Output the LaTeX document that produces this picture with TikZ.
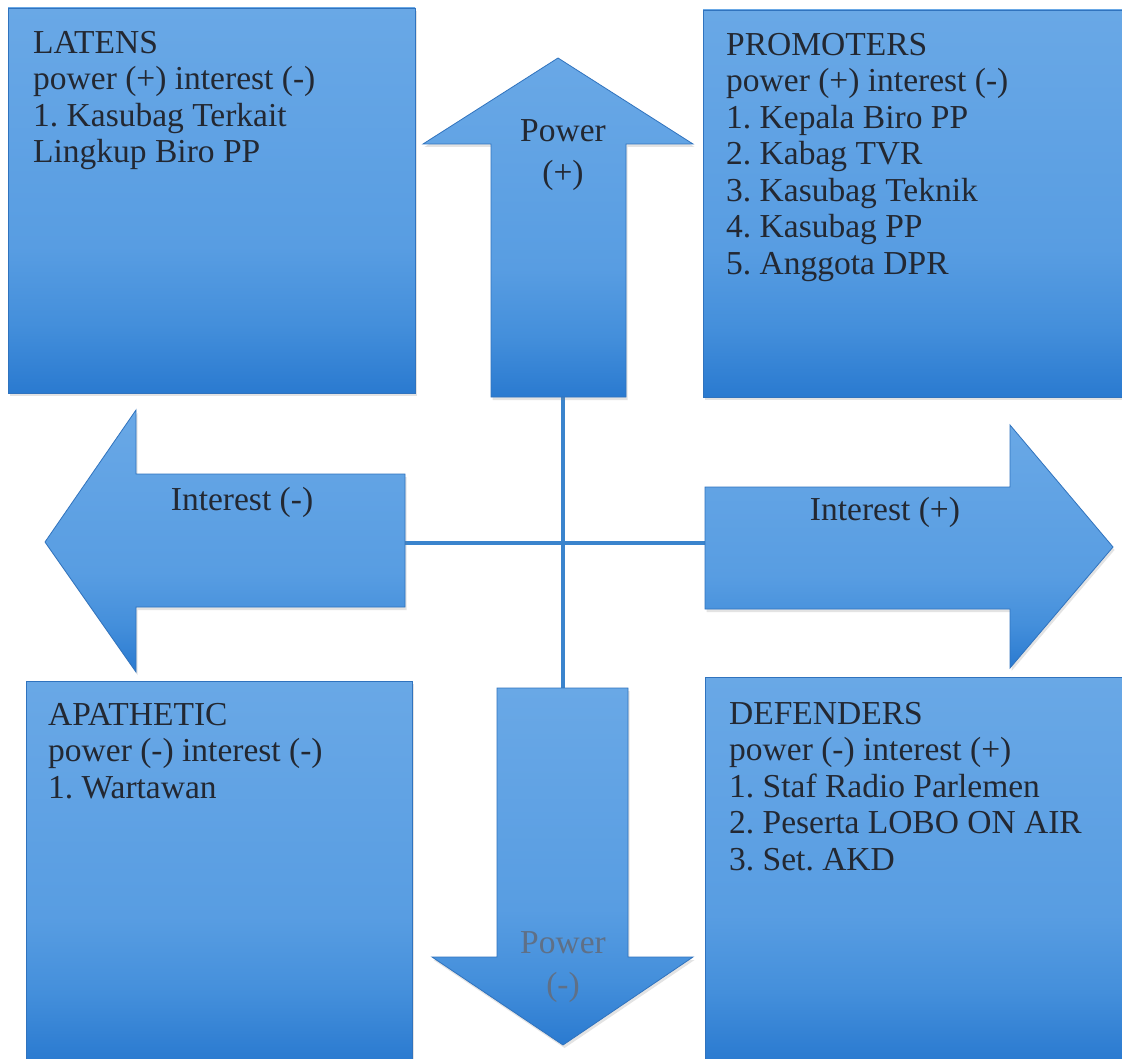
\documentclass[tikz,border=0pt]{standalone}
\usepackage{fontspec}
\setmainfont{Liberation Serif}
\usetikzlibrary{shadows}
\definecolor{boxtop}{RGB}{105,168,230}
\definecolor{boxmid}{RGB}{88,157,226}
\definecolor{boxlow}{RGB}{68,143,219}
\definecolor{boxbot}{RGB}{42,122,208}
\definecolor{edgeblue}{RGB}{48,115,190}
\definecolor{txt}{RGB}{35,40,50}
\definecolor{fadetxt}{RGB}{95,112,135}
\definecolor{linkblue}{RGB}{58,132,205}
\pgfdeclareverticalshading{boxshade}{100bp}{color(0bp)=(boxbot); color(25bp)=(boxbot); color(34bp)=(boxlow); color(44bp)=(boxmid); color(75bp)=(boxtop); color(100bp)=(boxtop)}
\tikzset{
  quad/.style={shade, shading=boxshade, draw=edgeblue, line width=0.8pt, inner sep=0pt, outer sep=0pt, anchor=north west,
    drop shadow={opacity=0.22, shadow xshift=1.5pt, shadow yshift=-3pt}},
  bigarrow/.style={shade, shading=boxshade, draw=edgeblue, line width=0.8pt,
    drop shadow={opacity=0.22, shadow xshift=1.5pt, shadow yshift=-3pt}},
  boxtext/.style={anchor=north west, align=left, inner sep=0pt, text=txt, font=\fontsize{33.5}{36.5}\selectfont\frenchspacing},
  arrowtext/.style={align=center, inner sep=0pt, text=txt, font=\fontsize{33.5}{42}\selectfont\frenchspacing},
  link/.style={draw=linkblue, line width=4pt}
}
\begin{document}
\begin{tikzpicture}[x=1pt,y=-1pt]
\useasboundingbox (0,0) rectangle (1122,1059);
\fill[white] (0,0) rectangle (1122,1059);

% quadrant boxes
\node[quad, minimum width=407pt, minimum height=385pt] (latens) at (8,8) {};
\node[quad, minimum width=421pt, minimum height=387pt] (promoters) at (703,10) {};
\node[quad, minimum width=386pt, minimum height=380pt] (apathetic) at (26,681) {};
\node[quad, minimum width=419pt, minimum height=384pt] (defenders) at (705,677) {};

% cross connectors
\coordinate (upfoot) at (563,396);
\coordinate (downtop) at (563,689);
\coordinate (leftend) at (404,543);
\coordinate (rightend) at (706,543);
\draw[link] (upfoot) -- (downtop);
\draw[link] (leftend) -- (rightend);

% arrows
\path[bigarrow] (491,397) -- (491,144) -- (423,144) -- (558,58) -- (693,144) -- (626,144) -- (626,397) -- cycle;
\path[bigarrow] (497,688) -- (628,688) -- (628,957) -- (693,957) -- (563,1045) -- (432,957) -- (497,957) -- cycle;
\path[bigarrow] (405,474) -- (136,474) -- (136,410) -- (45,542) -- (136,672) -- (136,607) -- (405,607) -- cycle;
\path[bigarrow] (705,487) -- (1010,487) -- (1010,425) -- (1113,547) -- (1010,668) -- (1010,609) -- (705,609) -- cycle;

% texts
\node[boxtext] (latensT) at (33,31) {LATENS\\power (+) interest (-)\\1. Kasubag Terkait\\Lingkup Biro PP};
\node[boxtext] (promotersT) at (726,33) {PROMOTERS\\power (+) interest (-)\\1. Kepala Biro PP\\2. Kabag TVR\\3. Kasubag Teknik\\4. Kasubag PP\\5. Anggota DPR};
\node[boxtext] (apatheticT) at (48,703) {APATHETIC\\power (-) interest (-)\\1. Wartawan};
\node[boxtext] (defendersT) at (729,702) {DEFENDERS\\power (-) interest (+)\\1. Staf Radio Parlemen\\2. Peserta LOBO ON AIR\\3. Set. AKD};

\node[arrowtext] (upL) at (563,155) {Power\\(+)};
\node[arrowtext, text=fadetxt] (downL) at (563,967) {Power\\(-)};
\node[arrowtext] (leftL) at (242,502) {Interest (-)};
\node[arrowtext] (rightL) at (885,512) {Interest (+)};
\end{tikzpicture}
\end{document}
